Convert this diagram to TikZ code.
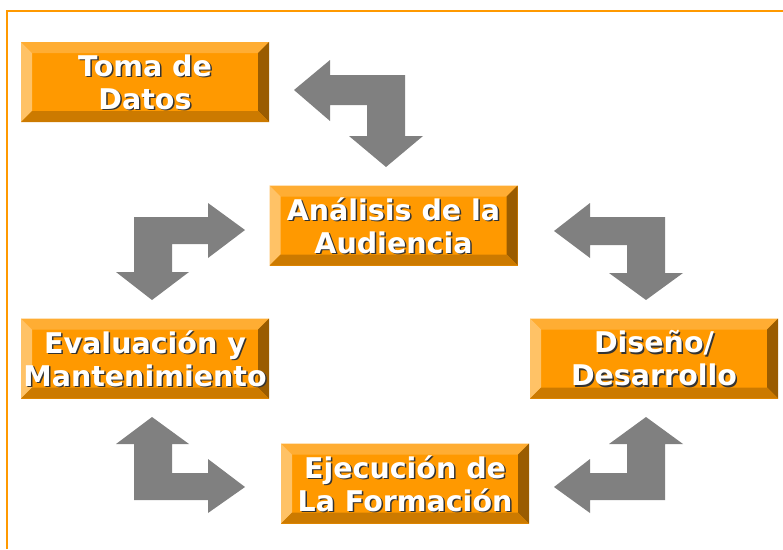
\documentclass[tikz,border=0pt]{standalone}
\usepackage{fontspec}
\setmainfont{DejaVu Sans}
\usetikzlibrary{calc}
\definecolor{boxorange}{HTML}{FF9900}
\definecolor{bevtop}{HTML}{FFAD33}
\definecolor{bevleft}{HTML}{FFC266}
\definecolor{bevright}{HTML}{9A5C00}
\definecolor{bevbottom}{HTML}{CC7A00}
\definecolor{arrowgray}{HTML}{808080}
\tikzset{
	stage/.style={rectangle,minimum width=248pt,minimum height=80pt,inner sep=0pt,fill=boxorange,
		path picture={
			\path (path picture bounding box.north west) coordinate (bnw)
			(path picture bounding box.north east) coordinate (bne)
			(path picture bounding box.south east) coordinate (bse)
			(path picture bounding box.south west) coordinate (bsw);
			\fill[bevtop] (bnw)--(bne)--($(bne)+(-11pt,-11pt)$)--($(bnw)+(11pt,-11pt)$)--cycle;
			\fill[bevleft] (bnw)--(bsw)--($(bsw)+(11pt,11pt)$)--($(bnw)+(11pt,-11pt)$)--cycle;
			\fill[bevright] (bne)--(bse)--($(bse)+(-11pt,11pt)$)--($(bne)+(-11pt,-11pt)$)--cycle;
			\fill[bevbottom] (bsw)--(bse)--($(bse)+(-11pt,11pt)$)--($(bsw)+(11pt,11pt)$)--cycle;
		}},
	stagetext/.style={align=center,inner sep=0pt,font=\bfseries\fontsize{28.5}{33}\selectfont},
	bentarrow/.style={fill=arrowgray}
}
\begin{document}
\begin{tikzpicture}[x=1pt,y=-1pt,line join=miter]
	\useasboundingbox (0,0) rectangle (783,549);
	% marco
	\draw[boxorange,line width=2pt] (7,549)--(7,10.5)--(783,10.5);
	% cajas
	\foreach \n/\x/\y/\t in {toma/145/82/{Toma de\\Datos},
		analisis/393.5/225.5/{Análisis de la\\Audiencia},
		evaluacion/145/358.5/{Evaluación y\\Mantenimiento},
		diseno/654/358.5/{Diseño/\\Desarrollo},
		ejecucion/405/483.5/{Ejecución de\\La Formación}}{
		\node[stage] (\n) at (\x,\y) {};
		\node[stagetext,text=black!80] at ([shift={(1.5pt,-1.5pt)}]\n.center) {\t};
		\node[stagetext,text=white] at (\n.center) {\t};
	}
	% flechas
	\fill[bentarrow] (405,75)--(405,136)--(423,136)--(386,167)--(349,136)--(367,136)--(367,105)
		--(330,105)--(330,121)--(294,90)--(330,60)--(330,75)--cycle;
	\fill[bentarrow] (134,217)--(134,272)--(116,272)--(152,300)--(189,272)--(172,272)--(172,244)
		--(208,244)--(208,258)--(245,230)--(208,203)--(208,217)--cycle;
	\fill[bentarrow] (665,217)--(665,273)--(683,273)--(646,300)--(609,273)--(627,273)--(627,245)
		--(590,245)--(590,258)--(554,231)--(590,203)--(590,217)--cycle;
	\fill[bentarrow] (134,500)--(134,444)--(116,444)--(152,417)--(189,444)--(172,444)--(172,473)
		--(208,473)--(208,459)--(245,487)--(208,513)--(208,500)--cycle;
	\fill[bentarrow] (665,500)--(665,444)--(683,444)--(646,417)--(609,444)--(627,444)--(627,473)
		--(590,473)--(590,459)--(554,487)--(590,513)--(590,500)--cycle;
\end{tikzpicture}
\end{document}
